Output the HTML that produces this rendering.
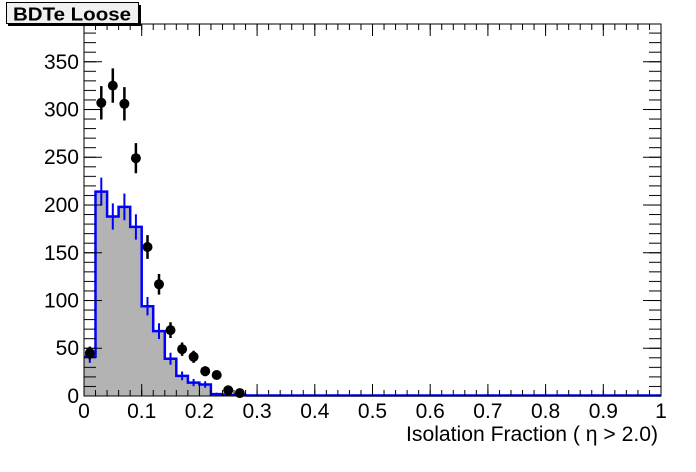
<!DOCTYPE html>
<html><head><meta charset="utf-8"><style>
html,body{margin:0;padding:0;background:#fff;width:696px;height:472px;overflow:hidden}
svg{display:block;font-family:"Liberation Sans",sans-serif}
</style></head><body>
<svg width="696" height="472" viewBox="0 0 696 472" xmlns="http://www.w3.org/2000/svg">
<defs>
<pattern id="xmin" patternUnits="userSpaceOnUse" x="83.5" y="0" width="11.54" height="472"><rect x="0" y="0" width="1" height="472" fill="#000"/></pattern>
<pattern id="xmaj" patternUnits="userSpaceOnUse" x="83.5" y="0" width="57.7" height="472"><rect x="0" y="0" width="1" height="472" fill="#000"/></pattern>
<pattern id="ymin" patternUnits="userSpaceOnUse" x="0" y="395.5" width="696" height="9.55"><rect x="0" y="0" width="696" height="1" fill="#000"/></pattern>
<pattern id="ymaj" patternUnits="userSpaceOnUse" x="0" y="395.5" width="696" height="47.75"><rect x="0" y="0" width="696" height="1" fill="#000"/></pattern>
</defs>
<rect width="696" height="472" fill="#fff"/>
<path d="M84,396 V356.8 H95.5 V191.6 H107.1 V216.5 H118.6 V206.9 H130.2 V226.9 H141.7 V306.2 H153.2 V331.1 H164.8 V358.8 H176.3 V375.9 H187.9 V382.6 H199.4 V384.5 H210.9 V394.1 H222.5 V395 H245.6 V396 Z" fill="#b3b3b3"/>
<path d="M84,356.8 H95.5 V191.6 H107.1 V216.5 H118.6 V206.9 H130.2 V226.9 H141.7 V306.2 H153.2 V331.1 H164.8 V358.8 H176.3 V375.9 H187.9 V382.6 H199.4 V384.5 H210.9 V394.1 H222.5 V395 H245.6 V395.5 H661" fill="none" stroke="#0000ff" stroke-width="2.5"/>
<g stroke="#0000ff" stroke-width="2">
<path d="M89.8,350.7V362.9 M101.3,177.6V205.6 M112.8,203.4V229.6 M124.4,193.5V220.3 M135.9,214.2V239.6 M147.5,297V315.4 M159,323.2V339 M170.5,352.8V364.8 M182.1,371.5V380.3 M193.6,379V386.2 M205.2,381.2V387.8 M216.7,392.7V395.5"/>
</g>
<g stroke="#000" stroke-width="2.5">
<path d="M89.8,346.6V359.4 M101.3,86.1V119.5 M112.8,68.4V102.8 M124.4,87.1V120.5 M135.9,143.1V173.3 M147.5,235.1V258.9 M159,274V294.6 M170.5,322.2V338 M182.1,342.5V355.9 M193.6,350.7V362.9 M205.2,366.3V376.1 M216.7,370.5V379.5 M228.2,388V392.6 M239.8,391.4V394.8"/>
</g>
<g fill="#000">
<circle cx="89.8" cy="353" r="5"/><circle cx="101.3" cy="102.8" r="5"/><circle cx="112.8" cy="85.6" r="5"/><circle cx="124.4" cy="103.8" r="5"/><circle cx="135.9" cy="158.2" r="5"/><circle cx="147.5" cy="247" r="5"/><circle cx="159" cy="284.3" r="5"/><circle cx="170.5" cy="330.1" r="5"/><circle cx="182.1" cy="349.2" r="5"/><circle cx="193.6" cy="356.8" r="5"/><circle cx="205.2" cy="371.2" r="5"/><circle cx="216.7" cy="375" r="5"/><circle cx="228.2" cy="390.3" r="5"/><circle cx="239.8" cy="393.1" r="5"/>
</g>
<rect x="84" y="390" width="577" height="6" fill="url(#xmin)"/>
<rect x="84" y="384" width="578" height="12" fill="url(#xmaj)"/>
<rect x="84" y="24" width="577" height="6" fill="url(#xmin)"/>
<rect x="84" y="24" width="578" height="12" fill="url(#xmaj)"/>
<rect x="84" y="24" width="12" height="372" fill="url(#ymin)"/>
<rect x="84" y="24" width="18" height="372" fill="url(#ymaj)"/>
<rect x="649" y="24" width="12" height="372" fill="url(#ymin)"/>
<rect x="643" y="24" width="18" height="372" fill="url(#ymaj)"/>
<rect x="84" y="24" width="577" height="372" fill="none" stroke="#000" stroke-width="1"/>
<g font-size="21" fill="#000" text-anchor="end">
<text x="79" y="403">0</text><text x="79" y="355">50</text><text x="79" y="307.5">100</text><text x="79" y="260">150</text><text x="79" y="212">200</text><text x="79" y="164">250</text><text x="79" y="116.5">300</text><text x="79" y="69">350</text>
</g>
<g font-size="21" fill="#000" text-anchor="middle">
<text x="84" y="418">0</text><text x="141.7" y="418">0.1</text><text x="199.4" y="418">0.2</text><text x="257.1" y="418">0.3</text><text x="314.8" y="418">0.4</text><text x="372.5" y="418">0.5</text><text x="430.2" y="418">0.6</text><text x="487.9" y="418">0.7</text><text x="545.6" y="418">0.8</text><text x="603.3" y="418">0.9</text><text x="661" y="418">1</text>
</g>
<text x="658" y="441" font-size="21" text-anchor="end" textLength="252" lengthAdjust="spacingAndGlyphs">Isolation Fraction (  η &gt; 2.0)</text>
<rect x="8" y="5" width="133" height="21" fill="#000"/>
<rect x="6.5" y="2.5" width="132" height="21" fill="#f0f0f0" stroke="#000" stroke-width="1"/>
<text x="72" y="20.5" font-size="18" font-weight="bold" text-anchor="middle" textLength="118" lengthAdjust="spacingAndGlyphs">BDTe Loose</text>
</svg>
</body></html>
